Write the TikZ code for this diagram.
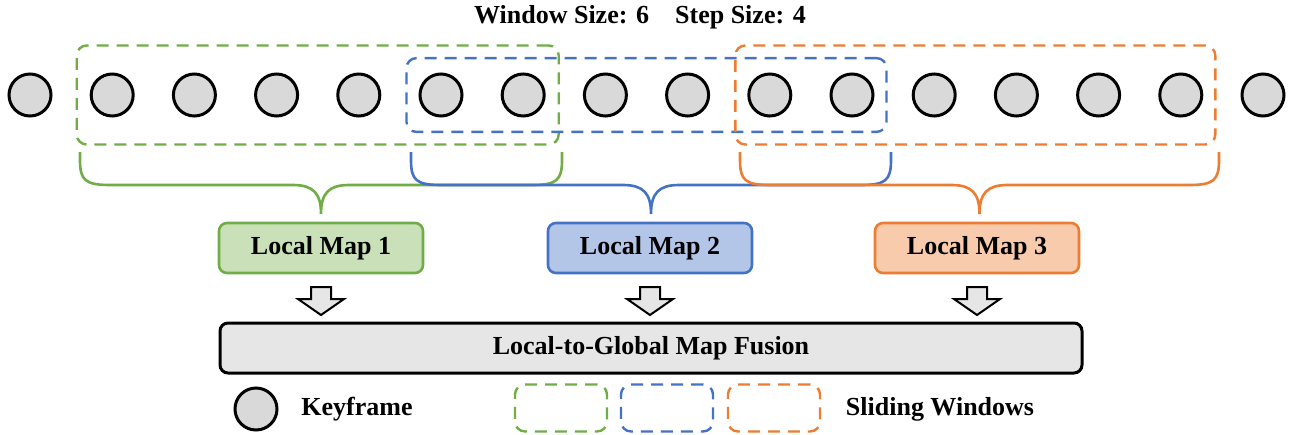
\documentclass[tikz,border=0pt]{standalone}
\usepackage{fontspec}
\setmainfont{Liberation Serif}
\usetikzlibrary{fit}

\definecolor{cgreen}{HTML}{70AD47}
\definecolor{cblue}{HTML}{4472C4}
\definecolor{corange}{HTML}{ED7D31}
\definecolor{fgreen}{HTML}{C9E0B8}
\definecolor{fblue}{HTML}{B4C6E7}
\definecolor{forange}{HTML}{F8CBAD}
\definecolor{kfgray}{HTML}{D9D9D9}
\definecolor{boxgray}{HTML}{E7E6E6}

\begin{document}
\begin{tikzpicture}[x=0.5pt,y=-0.5pt,
    every node/.style={font=\fontsize{13}{15}\selectfont\bfseries},
    keyframe/.style={circle,draw=black,fill=kfgray,line width=1.5pt,minimum size=21pt,inner sep=0pt},
    window/.style={draw=#1,line width=1.2pt,dash pattern=on 6pt off 4pt,rounded corners=5pt},
    brace/.style={draw=#1,line width=1.3pt},
    localmap/.style 2 args={draw=#1,fill=#2,line width=1.3pt,rounded corners=4pt,minimum width=102pt,minimum height=25pt},
    blockarrow/.style={draw=black,fill=boxgray,line width=1pt,line join=miter}]
    \useasboundingbox (0,0) rectangle (1291,434);

    % Title
    \node (title) at (640,17) {Window Size: 6\quad Step Size: 4};

    % Keyframes
    \foreach \i in {1,...,16} {
        \node[keyframe] (kf\i) at ({30+(\i-1)*82.2},95) {};
    }

    % Sliding windows
    \node[window=cgreen,fit=(kf2)(kf7),inner xsep=6.5pt,inner ysep=13.5pt] (wg) {};
    \node[window=cblue,fit=(kf6)(kf11),inner xsep=6pt,inner ysep=7.2pt] (wb) {};
    \node[window=corange,fit=(kf10)(kf15),inner xsep=6pt,inner ysep=13.5pt] (wo) {};

    % Braces under the windows
    \foreach \l/\r/\c in {80/562/cgreen, 411/891/cblue, 740/1219/corange} {
        \pgfmathsetmacro{\m}{(\l+\r)/2}
        \draw[brace=\c] (\l,152) -- (\l,160) .. controls (\l,180) and (\l+5,185) .. (\l+30,185)
            -- (\m-28,185) .. controls (\m-8,185) and (\m,193) .. (\m,214)
            .. controls (\m,193) and (\m+8,185) .. (\m+28,185)
            -- (\r-30,185) .. controls (\r-5,185) and (\r,180) .. (\r,160) -- (\r,152);
    }

    % Local maps
    \node[localmap={cgreen}{fgreen}] (lm1) at (321,248) {Local Map 1};
    \node[localmap={cblue}{fblue}] (lm2) at (650,248) {Local Map 2};
    \node[localmap={corange}{forange}] (lm3) at (977,248) {Local Map 3};

    % Fusion
    \node[draw=black,fill=boxgray,line width=1.5pt,rounded corners=4pt,
        minimum width=431pt,minimum height=25pt] (fusion) at (651,348) {Local-to-Global Map Fusion};

    % Arrows into the fusion
    \foreach \x in {321,650,977} {
        \draw[blockarrow] (\x-10,287) -- (\x+10,287) -- (\x+10,299) -- (\x+23,299)
            -- (\x,315) -- (\x-23,299) -- (\x-10,299) -- cycle;
    }

    % Legend
    \node[keyframe] (lgkf) at (256,409) {};
    \node (lgkftext) at (357,409) {Keyframe};
    \node[window=cgreen,minimum width=46pt,minimum height=23.5pt] (lgwg) at (561,408) {};
    \node[window=cblue,minimum width=46pt,minimum height=23.5pt] (lgwb) at (667,408) {};
    \node[window=corange,minimum width=46pt,minimum height=23.5pt] (lgwo) at (774,408) {};
    \node (lgwtext) at (940,409) {Sliding Windows};
\end{tikzpicture}
\end{document}
